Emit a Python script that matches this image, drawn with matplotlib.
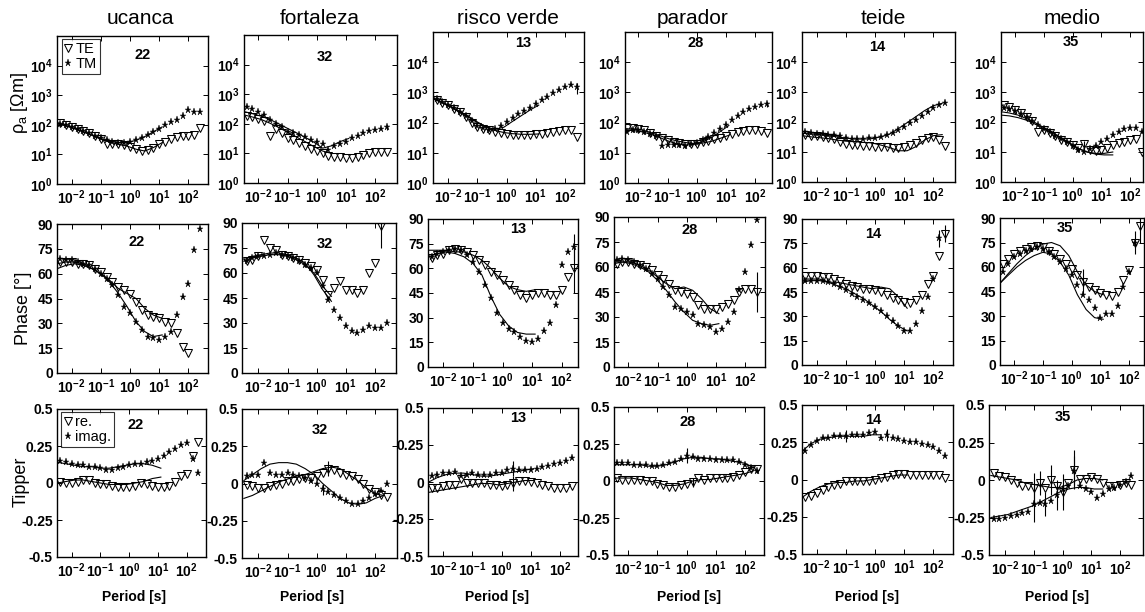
import numpy as np
import matplotlib
matplotlib.use("Agg")
import matplotlib.pyplot as plt
from matplotlib.ticker import LogLocator, NullFormatter

plt.rcParams['font.family'] = ['Liberation Sans', 'DejaVu Sans']
plt.rcParams['mathtext.fontset'] = 'custom'
plt.rcParams['mathtext.rm'] = 'Liberation Sans'
plt.rcParams['mathtext.it'] = 'Liberation Sans:italic'
plt.rcParams['mathtext.bf'] = 'Liberation Sans:bold'

N = np.nan

# ---------------------------------------------------------------- data
SITES = ['ucanca', 'fortaleza', 'risco verde', 'parador', 'teide', 'medio']
SITE_NUMBERS = ['22', '32', '13', '28', '14', '35']

# measured periods [s]
PERIODS = [0.004, 0.0063, 0.01, 0.016, 0.025, 0.04, 0.063, 0.1, 0.16, 0.25,
           0.4, 0.63, 1.0, 1.6, 2.5, 4.0, 6.3, 10, 16, 25, 40, 63, 100, 160, 250]
# periods of the model responses [s]
MODEL_PERIODS = [0.0032, 0.0063, 0.0126, 0.025, 0.05, 0.1, 0.2, 0.4, 0.8,
                 1.6, 3.2, 6.3, 12.6, 25, 50, 100, 200]

# ---- ucanca (22)
ucanca_rho_te = [114, 100, 86, 74, 62, 52, 42, 34, 22, 23, 22, 20, 18, 15, 13, 14, 17, 22, 27, 33, 38, 42, 43, 45, 80]
ucanca_rho_tm = [105, 95, 84, 72, 62, 52, 43, 35, 30, 27, 25, 25, 26, 30, 35, 44, 55, 70, 100, 120, 148, 200, 316, 270, 280]
ucanca_ph_te = [67, 67, 67, 66, 66, 65, 63, 61, 58, 55, 52, 50, 48, 43, 38, 35, 34, 33, 31, 30, 24, 16, 12, N, N]
ucanca_ph_tm = [69, 68, 68, 67, 66, 65, 63, 60, 57, 53, 47, 40, 36, 31, 26, 22, 21, 20, 22, 25, 35, 46, 54, 74, 87]
ucanca_tz_re = [0.01, 0.0, 0.0, 0.01, 0.02, 0.02, 0.0, -0.01, -0.01, -0.02, -0.03, -0.03, -0.03, -0.02, 0.0, -0.01, -0.02, -0.03, -0.03, -0.02, 0.01, 0.05, 0.06, 0.18, 0.28]
ucanca_tz_im = [0.15, 0.14, 0.13, 0.12, 0.12, 0.11, 0.11, 0.10, 0.09, 0.09, 0.10, 0.11, 0.12, 0.13, 0.13, 0.14, 0.15, 0.16, 0.18, 0.21, 0.23, 0.26, 0.27, 0.16, 0.07]
ucanca_m_rho_te = [115, 95, 75, 58, 44, 33, 26, 22, 19, 15, 13, 17, 25, N, N, N, N]
ucanca_m_rho_tm = [110, 92, 74, 58, 45, 34, 28, 25, 25, 30, 40, 58, 85, N, N, N, N]
ucanca_m_ph_te = [63, 65, 66, 65, 63, 60, 56, 51, 48, 45, 39, 35, 33, N, N, N, N]
ucanca_m_ph_tm = [66, 67, 67, 66, 63, 60, 55, 48, 40, 31, 25, 22, 23, N, N, N, N]
ucanca_m_tz_re = [0.0, 0.01, 0.02, 0.02, 0.01, 0.0, -0.01, -0.01, -0.01, 0.0, 0.01, 0.03, 0.04, N, N, N, N]
ucanca_m_tz_im = [0.14, 0.13, 0.12, 0.11, 0.11, 0.10, 0.10, 0.11, 0.12, 0.13, 0.13, 0.12, 0.10, N, N, N, N]

# ---- fortaleza (32)
fortaleza_rho_te = [190, 170, 150, 120, 40, 68, 50, 32, 28, 22, 18, 14, 12, 10, 8, 7.5, 7.5, 7, 7, 7.5, 8.5, 10, 11, 11, 11]
fortaleza_rho_tm = [380, 320, 260, 200, 130, 100, 75, 52, 48, 42, 36, 28, 24, 20, 13, 18, 21, 24, 33, 40, 48, 55, 62, 68, 75]
fortaleza_ph_te = [67, 68, 70, 80, 75, 74, 71, 70, 69, 68, 66, 64, 62, 56, 47, 51, 55, 50, 50, 48, 50, 60, 66, 88, N]
fortaleza_ph_tm = [67, 69, 70, 70, 71, 72, 71, 70, 69, 67, 65, 63, 60, 52, 44, 38, 33, 28, 25, 24, 26, 28, 27, 27, 30]
fortaleza_tz_re = [-0.01, -0.02, -0.03, -0.03, -0.02, -0.01, 0.0, 0.02, 0.02, 0.03, 0.04, 0.04, 0.05, 0.07, 0.10, 0.09, 0.07, 0.06, 0.05, 0.03, 0.0, -0.04, -0.06, -0.08, -0.09]
fortaleza_tz_im = [0.05, 0.06, 0.06, 0.14, 0.07, 0.06, 0.06, 0.07, 0.06, 0.05, 0.04, 0.02, 0.0, -0.04, -0.06, -0.08, -0.10, -0.12, -0.14, -0.14, -0.12, -0.10, -0.07, -0.05, 0.0]
fortaleza_m_rho_te = [200, 170, 140, 105, 75, 52, 36, 25, 17, 12, 10, N, N, N, N, N, N]
fortaleza_m_rho_tm = [260, 220, 180, 140, 100, 70, 50, 35, 24, 15, 18, 25, 32, N, N, N, N]
fortaleza_m_ph_te = [67, 69, 70, 71, 71, 70, 68, 65, 60, 52, 46, N, N, N, N, N, N]
fortaleza_m_ph_tm = [68, 70, 71, 72, 72, 71, 69, 66, 59, 50, 43, N, N, N, N, N, N]
fortaleza_m_tz_re = [-0.10, -0.08, -0.05, -0.02, 0.01, 0.03, 0.05, 0.06, 0.08, 0.10, 0.11, 0.10, 0.06, 0.02, -0.03, -0.07, -0.08]
fortaleza_m_tz_im = [0.02, 0.06, 0.10, 0.13, 0.14, 0.14, 0.13, 0.10, 0.06, 0.0, -0.05, -0.10, -0.13, -0.14, -0.13, -0.10, -0.08]

# ---- risco verde (13)
risco_rho_te = [540, 460, 370, 290, 220, 150, 100, 72, 62, 55, 50, 45, 42, 40, 39, 39, 40, 41, 42, 44, 48, 52, 56, 58, 33]
risco_rho_tm = [600, 480, 380, 300, 230, 160, 110, 80, 65, 57, 62, 80, 105, 140, 186, 240, 316, 417, 550, 724, 930, 1200, 1480, 1820, 1500]
risco_ph_te = [66, 68, 69, 71, 72, 71, 70, 68, 65, 62, 58, 56, 53, 50, 47, 44, 42, 44, 45, 45, 44, 44, 47, 55, 60]
risco_ph_tm = [67, 69, 70, 71, 72, 71, 68, 64, 58, 50, 42, 33, 27, 23, 21, 18, 16, 15, 17, 22, 27, 38, 62, 70, 73]
risco_tz_re = [-0.04, -0.04, -0.03, -0.02, -0.02, 0.02, -0.01, -0.01, -0.01, -0.01, -0.02, -0.02, -0.03, -0.02, -0.01, 0.01, 0.01, 0.0, -0.01, -0.02, -0.03, -0.04, -0.04, -0.04, -0.03]
risco_tz_im = [0.04, 0.05, 0.06, 0.06, 0.07, 0.04, 0.05, 0.06, 0.05, 0.05, 0.05, 0.06, 0.06, 0.08, 0.09, 0.08, 0.08, 0.08, 0.09, 0.10, 0.11, 0.12, 0.13, 0.14, 0.16]
risco_m_rho_te = [600, 450, 320, 220, 150, 100, 70, 55, 47, 43, 41, 41, 42, N, N, N, N]
risco_m_rho_tm = [620, 470, 340, 235, 160, 105, 72, 60, 70, 110, 170, 260, 380, N, N, N, N]
risco_m_ph_te = [71, 71, 71, 70, 70, 68, 65, 60, 54, 49, 47, 46, 47, N, N, N, N]
risco_m_ph_tm = [67, 69, 70, 69, 67, 63, 56, 43, 32, 25, 21, 20, 20, N, N, N, N]
risco_m_tz_re = [-0.07, -0.06, -0.05, -0.04, -0.03, -0.02, -0.01, -0.01, -0.02, -0.01, 0.0, 0.01, 0.01, N, N, N, N]
risco_m_tz_im = [0.0, 0.03, 0.05, 0.06, 0.06, 0.05, 0.04, 0.04, 0.05, 0.06, 0.07, 0.08, 0.09, N, N, N, N]

# ---- parador (28)
parador_rho_te = [65, 66, 62, 55, 45, 37, 31, 26, 23, 21, 20, 20, 20, 22, 25, 28, 32, 37, 43, 49, 53, 55, 55, 52, 46]
parador_rho_tm = [50, 55, 55, 48, 42, 35, 17, 18, 18, 18, 17, 19, 21, 26, 33, 45, 60, 85, 120, 170, 220, 280, 330, 380, 400]
parador_ph_te = [62, 63, 63, 62, 61, 60, 58, 55, 53, 50, 46, 45, 44, 42, 37, 35, 35, 35, 36, 38, 40, 45, 47, 47, 45]
parador_ph_tm = [64, 65, 64, 63, 61, 59, 56, 53, 48, 43, 36, 35, 33, 31, 26, 25, 24, 21, 23, 27, 33, 46, 57, 73, 88]
parador_tz_re = [0.02, 0.01, 0.01, 0.01, 0.01, 0.0, 0.0, -0.02, -0.03, -0.04, -0.04, -0.03, -0.02, -0.01, 0.02, 0.01, 0.02, 0.02, 0.02, 0.02, 0.03, 0.04, 0.06, 0.08, 0.08]
parador_tz_im = [0.12, 0.12, 0.12, 0.11, 0.11, 0.11, 0.10, 0.10, 0.11, 0.12, 0.13, 0.15, 0.17, 0.16, 0.15, 0.15, 0.15, 0.14, 0.14, 0.14, 0.14, 0.13, 0.11, 0.09, 0.07]
parador_m_rho_te = [62, 62, 58, 48, 38, 30, 25, 22, 20, 21, 24, 30, 38, N, N, N, N]
parador_m_rho_tm = [55, 55, 50, 42, 33, 25, 20, 18, 19, 23, 32, 50, 80, N, N, N, N]
parador_m_ph_te = [62, 63, 63, 61, 58, 54, 50, 47, 48, 46, 41, 35, 32, N, N, N, N]
parador_m_ph_tm = [63, 63, 62, 60, 57, 52, 46, 39, 33, 28, 26, 25, 26, N, N, N, N]
parador_m_tz_re = [0.02, 0.02, 0.02, 0.01, 0.0, -0.01, -0.03, -0.03, -0.02, 0.0, 0.01, 0.01, 0.02, 0.03, 0.04, 0.05, 0.07]
parador_m_tz_im = [0.11, 0.11, 0.11, 0.11, 0.10, 0.10, 0.11, 0.13, 0.15, 0.16, 0.16, 0.15, 0.15, 0.14, 0.13, 0.12, 0.09]

# ---- teide (14)
teide_rho_te = [37, 35, 33, 31, 30, 27, 22, 18, 17, 17, 16, 16, 15, 15, 15, 14, 14, 15, 17, 20, 25, 30, 32, 25, 16]
teide_rho_tm = [45, 43, 41, 40, 38, 36, 33, 30, 28, 28, 28, 29, 30, 32, 36, 42, 55, 68, 90, 120, 160, 220, 300, 380, 420]
teide_ph_te = [55, 55, 55, 54, 54, 53, 52, 50, 49, 48, 47, 47, 46, 45, 43, 41, 40, 39, 38, 40, 43, 50, 55, 67, 81]
teide_ph_tm = [52, 52, 52, 52, 51, 50, 48, 46, 44, 42, 40, 38, 36, 33, 30, 27, 24, 21, 21, 25, 33, 42, 53, 78, N]
teide_tz_re = [-0.12, -0.11, -0.09, -0.07, -0.05, -0.04, -0.03, -0.01, -0.01, -0.01, -0.01, -0.01, 0.0, 0.01, 0.02, 0.03, 0.04, 0.04, 0.03, 0.03, 0.03, 0.03, 0.03, 0.03, 0.01]
teide_tz_im = [0.19, 0.23, 0.26, 0.28, 0.28, 0.29, 0.29, 0.29, 0.30, 0.30, 0.30, 0.31, 0.32, 0.28, 0.30, 0.28, 0.27, 0.26, 0.25, 0.25, 0.24, 0.23, 0.22, 0.19, 0.16]
teide_m_rho_te = [35, 32, 30, 28, 25, 23, 22, 21, 20, 17, 14, 11, 11, 15, 25, 35, 38]
teide_m_rho_tm = [42, 40, 38, 35, 32, 29, 27, 27, 28, 32, 40, 60, 95, 150, 240, 350, 420]
teide_m_ph_te = [51, 52, 52, 51, 51, 50, 49, 48, 47, 48, 47, 42, 35, N, N, N, N]
teide_m_ph_tm = [53, 53, 53, 51, 49, 47, 44, 41, 37, 33, 28, 24, 21, N, N, N, N]
teide_m_tz_re = [-0.12, -0.08, -0.05, -0.03, -0.02, -0.02, -0.01, -0.01, 0.0, 0.01, 0.02, 0.03, 0.03, N, N, N, N]
teide_m_tz_im = [0.19, 0.24, 0.27, 0.28, 0.29, 0.29, 0.29, 0.29, 0.30, 0.30, N, N, N, N, N, N, N]

# ---- medio (35)
medio_rho_te = [380, 320, 260, 200, 150, 110, 45, 55, 42, 33, 26, 21, 17, 14, 18, 12, 11, 12, 14, 17, 20, 22, 25, 28, 10]
medio_rho_tm = [300, 270, 230, 190, 150, 110, 80, 60, 45, 35, 27, 21, 16, 12, 10, 13, 16, 22, 28, 38, 48, 58, 65, 65, 48]
medio_ph_te = [62, 65, 68, 70, 71, 72, 73, 72, 70, 68, 65, 62, 59, 55, 51, 48, 46, 44, 43, 42, 45, 52, 58, 75, 85]
medio_ph_tm = [57, 62, 66, 68, 70, 71, 72, 71, 69, 66, 63, 59, 55, 49, 43, 40, 35, 29, 31, 31, 36, 48, 57, 75, N]
medio_tz_re = [0.05, 0.03, 0.02, 0.0, -0.02, -0.04, -0.04, -0.05, -0.02, -0.05, 0.0, -0.04, -0.08, -0.02, 0.07, 0.01, 0.01, 0.02, 0.01, -0.02, -0.04, -0.04, -0.03, -0.02, -0.03]
medio_tz_im = [-0.26, -0.26, -0.25, -0.24, -0.23, -0.22, -0.21, -0.16, -0.15, -0.16, -0.14, -0.10, -0.06, -0.04, 0.06, -0.04, -0.06, -0.08, -0.12, -0.09, -0.06, -0.05, -0.03, -0.01, 0.03]
medio_m_rho_te = [220, 200, 170, 130, 95, 65, 45, 30, 20, 13, 10, 8.5, 8, 8, N, N, N]
medio_m_rho_tm = [170, 160, 140, 115, 85, 60, 42, 28, 19, 13, 10, 9, 9, 10, N, N, N]
medio_m_ph_te = [50, 56, 62, 67, 71, 74, 75, 73, 67, 57, 49, 45, 43, N, N, N, N]
medio_m_ph_tm = [50, 55, 60, 64, 67, 69, 68, 63, 55, 43, 34, 29, 28, N, N, N, N]
medio_m_tz_re = [0.03, 0.02, 0.01, 0.0, -0.02, -0.03, -0.04, -0.05, -0.05, -0.03, 0.0, 0.01, 0.01, 0.0, N, N, N]
medio_m_tz_im = [-0.25, -0.24, -0.23, -0.21, -0.19, -0.17, -0.14, -0.11, -0.08, -0.06, -0.05, -0.05, -0.06, -0.06, N, N, N]

# error bars: (site, series, index into PERIODS, half length)
ERRORBARS = [
    ('fortaleza', 'ph_te', 23, 13), ('fortaleza', 'rho_tm', 24, 15),
    ('fortaleza', 'tz_re', 14, 0.05), ('fortaleza', 'tz_im', 13, 0.04),
    ('risco verde', 'ph_te', 24, 15), ('risco verde', 'ph_tm', 24, 8),
    ('risco verde', 'rho_tm', 24, 600), ('risco verde', 'tz_re', 14, 0.05),
    ('risco verde', 'tz_im', 14, 0.05),
    ('parador', 'ph_te', 24, 12), ('parador', 'rho_tm', 24, 80),
    ('parador', 'tz_im', 12, 0.05), ('parador', 'tz_re', 13, 0.03),
    ('teide', 'ph_tm', 23, 5), ('teide', 'ph_te', 24, 5),
    ('teide', 'tz_im', 7, 0.04), ('teide', 'tz_im', 14, 0.04),
    ('medio', 'ph_te', 14, 8), ('medio', 'ph_te', 24, 10), ('medio', 'ph_tm', 23, 7),
    ('medio', 'rho_te', 14, 6),
    ('medio', 'tz_re', 7, 0.10), ('medio', 'tz_re', 8, 0.08), ('medio', 'tz_re', 10, 0.10),
    ('medio', 'tz_re', 12, 0.12), ('medio', 'tz_re', 14, 0.13),
    ('medio', 'tz_im', 7, 0.12), ('medio', 'tz_im', 9, 0.08), ('medio', 'tz_im', 11, 0.10),
    ('medio', 'tz_im', 14, 0.10),
]

PREFIX = {'ucanca': 'ucanca', 'fortaleza': 'fortaleza', 'risco verde': 'risco',
          'parador': 'parador', 'teide': 'teide', 'medio': 'medio'}
KEYS = ['rho_te', 'rho_tm', 'ph_te', 'ph_tm', 'tz_re', 'tz_im']
DATA = {s: {k: globals()[f'{PREFIX[s]}_{k}'] for k in KEYS} for s in SITES}
MODEL = {s: {k: globals()[f'{PREFIX[s]}_m_{k}'] for k in KEYS} for s in SITES}

# ---------------------------------------------------------------- layout
W, H = 1145, 612
fig = plt.figure(figsize=(W / 100, H / 100), dpi=100)
fig.patch.set_facecolor('white')

# panel boxes in pixels: (left, right, top, bottom) and log10 period span
BOXES = {
    'rho': [(57, 208, 36, 184), (244, 397, 35, 183), (433, 584, 32, 183),
            (625, 772, 32, 183), (802, 955, 32, 182), (1001, 1143, 32, 182)],
    'ph': [(57, 208, 224, 373), (242, 396, 223, 373), (428, 578, 219, 367),
           (614, 765, 217, 367), (802, 953, 219, 365), (1000, 1144, 218, 365)],
    'tz': [(57, 206, 409, 557), (242, 397, 409, 558), (428, 578, 408, 556),
           (614, 764, 407, 555), (802, 953, 405, 554), (989, 1143, 405, 555)],
}
XSPAN = {
    'rho': [(-2.5, 2.67), (-2.49, 2.75), (-2.52, 2.65), (-2.46, 2.58), (-2.5, 2.74), (-2.49, 2.45)],
    'ph': [(-2.5, 2.67), (-2.56, 2.72), (-2.52, 2.55), (-2.49, 2.68), (-2.5, 2.67), (-2.49, 2.52)],
    'tz': [(-2.51, 2.67), (-2.56, 2.75), (-2.52, 2.62), (-2.49, 2.65), (-2.5, 2.67), (-2.56, 2.8)],
}
NUM_POS = {
    'rho': [(0.57, 0.87), (0.53, 0.85), (0.60, 0.93), (0.48, 0.93), (0.49, 0.90), (0.49, 0.93)],
    'ph': [(0.53, 0.88), (0.54, 0.86), (0.60, 0.93), (0.50, 0.91), (0.47, 0.90), (0.45, 0.93)],
    'tz': [(0.53, 0.89), (0.50, 0.86), (0.60, 0.93), (0.49, 0.90), (0.47, 0.90), (0.48, 0.92)],
}
TITLE_X = [140, 320, 508, 693, 883, 1072]
PERIOD_LABEL_X = [134, 312, 497, 689, 867, 1057]

TICK_FS = 10
xt = [1e-2, 1e-1, 1e0, 1e1, 1e2]
xt_lab = [r'$\mathbf{10^{%d}}$' % e for e in (-2, -1, 0, 1, 2)]


def make_axes(box, span):
    l, r, t, b = box
    ax = fig.add_axes([l / W, 1 - b / H, (r - l) / W, (b - t) / H])
    ax.set_xscale('log')
    ax.set_xlim(10 ** span[0], 10 ** span[1])
    ax.set_xticks(xt)
    ax.set_xticklabels(xt_lab, fontsize=TICK_FS)
    ax.xaxis.set_minor_locator(LogLocator(base=10, subs=np.arange(2, 10)))
    ax.xaxis.set_minor_formatter(NullFormatter())
    ax.tick_params(which='both', direction='in', top=True, right=True,
                   width=0.7, labelsize=TICK_FS)
    ax.tick_params(which='major', length=3.5, pad=3)
    ax.tick_params(which='minor', length=1.6)
    for sp in ax.spines.values():
        sp.set_linewidth(1.0)
    return ax


te_style = dict(ls='none', marker='v', ms=5.4, mfc='none', mec='k', mew=0.75)
tm_style = dict(ls='none', marker='*', ms=5.2, color='k', mew=0.3)
line_style = dict(color='k', lw=0.8)

ROWS = [('rho', 'rho_te', 'rho_tm'), ('ph', 'ph_te', 'ph_tm'), ('tz', 'tz_re', 'tz_im')]

for c, site in enumerate(SITES):
    for row, k_te, k_tm in ROWS:
        ax = make_axes(BOXES[row][c], XSPAN[row][c])
        ax.plot(MODEL_PERIODS, MODEL[site][k_te], **line_style)
        ax.plot(MODEL_PERIODS, MODEL[site][k_tm], **line_style)
        h_te, = ax.plot(PERIODS, DATA[site][k_te], **te_style)
        h_tm, = ax.plot(PERIODS, DATA[site][k_tm], **tm_style)
        for s, key, idx, err in ERRORBARS:
            if s == site and key in (k_te, k_tm):
                v = DATA[site][key][idx]
                ax.vlines(PERIODS[idx], v - err, v + err, color='k', lw=0.8)
        if row == 'rho':
            ax.set_yscale('log')
            ax.set_ylim(1, 1e5)
            ax.set_yticks([1, 10, 100, 1e3, 1e4])
            ax.set_yticklabels([r'$\mathbf{10^{%d}}$' % e for e in range(5)])
            ax.yaxis.set_minor_locator(LogLocator(base=10, subs=np.arange(2, 10)))
            ax.yaxis.set_minor_formatter(NullFormatter())
        elif row == 'ph':
            ax.set_ylim(0, 90)
            ax.set_yticks([0, 15, 30, 45, 60, 75, 90])
            ax.set_yticklabels(['0', '15', '30', '45', '60', '75', '90'])
        else:
            ax.set_ylim(-0.5, 0.5)
            ax.set_yticks([-0.5, -0.25, 0, 0.25, 0.5])
            ax.set_yticklabels(['-0.5', '-0.25', '0', '0.25', '0.5'])
        for lab in ax.get_yticklabels():
            lab.set_fontweight('bold')
            lab.set_fontsize(TICK_FS)
        nx, ny = NUM_POS[row][c]
        ax.text(nx, ny, SITE_NUMBERS[c], transform=ax.transAxes, ha='center',
                va='center', fontsize=10.5, fontweight='bold')
        if c == 0 and row in ('rho', 'tz'):
            labels = ['TE', 'TM'] if row == 'rho' else ['re.', 'imag.']
            leg = ax.legend([h_te, h_tm], labels, loc='upper left',
                            bbox_to_anchor=(0.03, 0.98), fontsize=10.5,
                            handlelength=0.5, handletextpad=0.25,
                            borderpad=0.2, labelspacing=0.05,
                            borderaxespad=0.0, frameon=True, fancybox=False)
            leg.get_frame().set_edgecolor('k')
            leg.get_frame().set_linewidth(0.8)

# station names and period labels
for c, site in enumerate(SITES):
    fig.text(TITLE_X[c] / W, 1 - 24 / H, site, ha='center', va='baseline',
             fontsize=15)
    fig.text(PERIOD_LABEL_X[c] / W, 1 - 597 / H, 'Period [s]', ha='center',
             va='center', fontsize=10, fontweight='bold')

# row labels
fig.text(20 / W, 1 - 103 / H, r'ρ$_\mathrm{a}$ [Ωm]', rotation=90,
         ha='center', va='center', fontsize=13)
fig.text(23 / W, 1 - 308 / H, 'Phase [°]', rotation=90,
         ha='center', va='center', fontsize=13)
fig.text(21 / W, 1 - 482 / H, 'Tipper', rotation=90,
         ha='center', va='center', fontsize=13)

fig.savefig('out.png', dpi=100, facecolor='white')
